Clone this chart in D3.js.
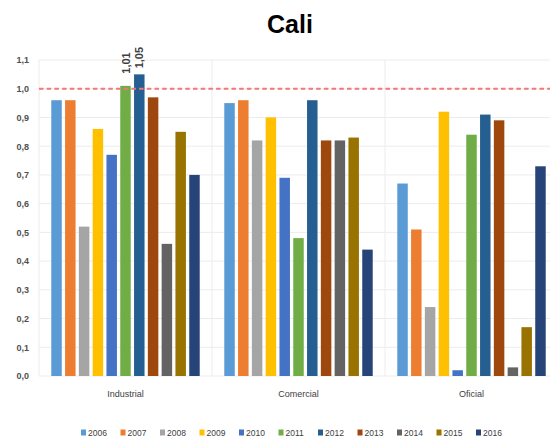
<!DOCTYPE html>
<html><head><meta charset="utf-8">
<script src="https://cdn.jsdelivr.net/npm/d3@7"></script>
<style>body{margin:0;background:#fff;} svg{display:block;font-family:"Liberation Sans",Arial,sans-serif;}</style>
</head><body><svg id="c" width="550" height="441"></svg>
<script>
const categories = ["Industrial","Comercial","Oficial"];
const years = ["2006","2007","2008","2009","2010","2011","2012","2013","2014","2015","2016"];
const colors = ["#5B9BD5","#ED7D31","#A5A5A5","#FFC000","#4472C4","#70AD47","#255E91","#9E480E","#636363","#997300","#264478"];
const industrial = [0.96,0.96,0.52,0.86,0.77,1.01,1.05,0.97,0.46,0.85,0.70];
const comercial  = [0.95,0.96,0.82,0.90,0.69,0.48,0.96,0.82,0.82,0.83,0.44];
const oficial    = [0.67,0.51,0.24,0.92,0.02,0.84,0.91,0.89,0.03,0.17,0.73];
const yTicks = [0,0.1,0.2,0.3,0.4,0.5,0.6,0.7,0.8,0.9,1.0,1.1];
const labeled = {"Industrial":["2011","2012"]};
const threshold = 1.0;
const title = "Cali";

const seriesByCat = {Industrial: industrial, Comercial: comercial, Oficial: oficial};
const svg = d3.select("#c");
const mLeft = 39, mRight = 558, mTop = 60, mBottom = 376;

const x0 = d3.scaleBand().domain(categories).range([mLeft, mRight]).padding(0);
const x1 = d3.scaleBand().domain(years).range([0, x0.bandwidth()]).paddingInner(0.24).paddingOuter(0.89);
const y = d3.scaleLinear().domain([0, 1.1]).range([mBottom, mTop]);
const fmt = v => d3.format(".1f")(v).replace(".", ",");

// gridlines
svg.append("g").selectAll("line").data(yTicks).join("line")
  .attr("x1", mLeft).attr("x2", mRight)
  .attr("y1", d => y(d)).attr("y2", d => y(d))
  .attr("stroke", "#ececec").attr("stroke-width", 1);
// category separators
svg.append("g").selectAll("line").data(categories).join("line")
  .attr("x1", d => x0(d)).attr("x2", d => x0(d))
  .attr("y1", mTop).attr("y2", mBottom)
  .attr("stroke", "#ececec").attr("stroke-width", 1);

// y axis
const yAxis = d3.axisLeft(y).tickValues(yTicks).tickFormat(fmt).tickSize(0).tickPadding(9);
const ga = svg.append("g").attr("transform", `translate(${mLeft-1},0)`).call(yAxis);
ga.select(".domain").remove();
ga.selectAll("text").attr("font-size", 9).attr("font-weight", "bold").attr("fill", "#505050");

// bars
const groups = svg.append("g").selectAll("g").data(categories).join("g")
  .attr("transform", d => `translate(${x0(d)},0)`);
groups.selectAll("rect").data(c => seriesByCat[c].map((v,i) => ({c, yr: years[i], v, col: colors[i]})))
  .join("rect")
  .attr("x", d => x1(d.yr)).attr("width", x1.bandwidth())
  .attr("y", d => y(d.v)).attr("height", d => mBottom - y(d.v))
  .attr("fill", d => d.col);

// data labels (kept clear of the threshold line)
groups.selectAll("text.lbl").data(c => seriesByCat[c].map((v,i) => ({c, yr: years[i], v})).filter(d => (labeled[d.c]||[]).includes(d.yr)))
  .join("text").attr("class","lbl")
  .attr("transform", d => `translate(${x1(d.yr)+x1.bandwidth()/2+4},${Math.min(y(d.v)-6, y(threshold)-15)}) rotate(-90)`)
  .attr("font-size", 11).attr("font-weight", "bold").attr("fill", "#404040")
  .text(d => d3.format(".2f")(d.v).replace(".", ","));

// threshold line
svg.append("line").attr("x1", mLeft).attr("x2", mRight)
  .attr("y1", y(threshold)).attr("y2", y(threshold))
  .attr("stroke", "#F47676").attr("stroke-width", 2.2).attr("stroke-dasharray", "4.5,3.2");

// x labels
const xAxis = d3.axisBottom(x0).tickSize(0).tickPadding(15);
const gx = svg.append("g").attr("transform", `translate(0,${mBottom})`).call(xAxis);
gx.select(".domain").remove();
gx.selectAll("text").attr("font-size", 9).attr("fill", "#404040");

// title
svg.append("text").attr("x", 290).attr("y", 33).attr("text-anchor", "middle")
  .attr("font-size", 25).attr("font-weight", "bold").attr("fill", "#000").text(title);

// legend
const lx = d3.scalePoint().domain(years).range([81, 476]);
const lg = svg.append("g").selectAll("g").data(years).join("g")
  .attr("transform", d => `translate(${lx(d)},433)`);
lg.append("rect").attr("x", 0).attr("y", -3.5).attr("width", 5).attr("height", 6)
  .attr("fill", (d,i) => colors[i]);
lg.append("text").attr("x", 7).attr("y", 3).attr("font-size", 8.5).attr("fill", "#404040").text(d => d);
</script></body></html>
